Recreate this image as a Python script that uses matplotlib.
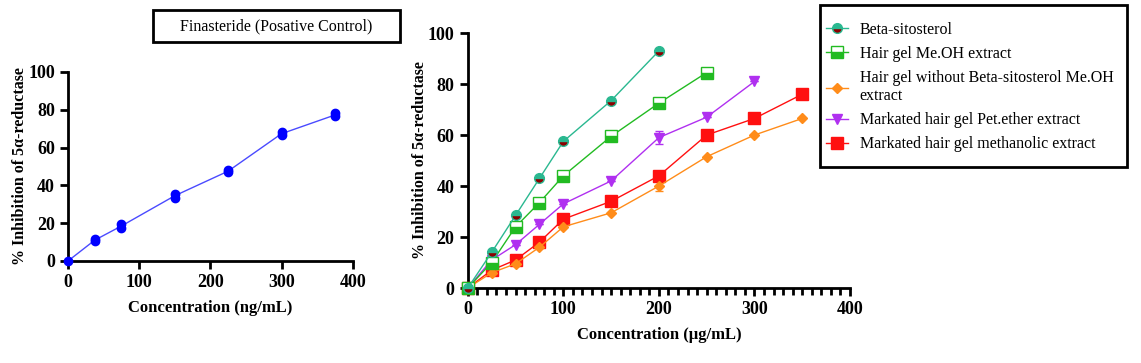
import matplotlib
matplotlib.use("Agg")
import matplotlib.pyplot as plt
from matplotlib.patches import Rectangle

plt.rcParams['font.family'] = ['Liberation Serif', 'DejaVu Serif']

# Finasteride (positive control), replicates
fin_x = [0, 37.5, 37.5, 75, 75, 150, 150, 225, 225, 300, 300, 375, 375]
fin_y = [0, 10.5, 11.5, 17.5, 19.5, 33.5, 35.5, 47, 48, 66.5, 68, 76.5, 78]
fin_mean_x = [0, 37.5, 75, 150, 225, 300, 375]
fin_mean_y = [0, 11, 18.5, 34.5, 47.5, 67.3, 77.2]

# Extracts
beta_x = [0, 25, 50, 75, 100, 150, 200]
beta_y = [0, 14, 28.5, 43, 57.5, 73.5, 93]
meoh_x = [0, 25, 50, 75, 100, 150, 200, 250]
meoh_y = [0, 10, 24, 33.5, 44, 59.5, 72.5, 84.5]
nobeta_x = [0, 25, 50, 75, 100, 150, 200, 250, 300, 350]
nobeta_y = [0, 6, 9.5, 16, 24, 29.5, 40, 51.5, 60, 66.5]
nobeta_err = [0, 0, 0, 0, 0, 0, 2, 0, 0, 0]
pet_x = [0, 25, 50, 75, 100, 150, 200, 250, 300]
pet_y = [0, 11, 17, 25, 33, 42, 59, 67, 81]
pet_err = [0, 0, 0, 0, 0, 0, 2.5, 0, 0]
meth_x = [0, 25, 50, 75, 100, 150, 200, 250, 300, 350]
meth_y = [0, 7, 11, 18, 27, 34, 44, 60, 66.5, 76]

labels = ["Beta-sitosterol", "Hair gel Me.OH extract",
          "Hair gel without Beta-sitosterol Me.OH\nextract",
          "Markated hair gel Pet.ether extract",
          "Markated hair gel methanolic extract"]

fig = plt.figure(figsize=(11.41, 3.63), dpi=100)

def style_axes(ax, xlabel):
    for s in ["top", "right"]:
        ax.spines[s].set_visible(False)
    for s in ["left", "bottom"]:
        ax.spines[s].set_linewidth(2)
    ax.tick_params(width=2, length=6, labelsize=13)
    for lbl in ax.get_xticklabels() + ax.get_yticklabels():
        lbl.set_fontweight("bold")
    ax.set_xlabel(xlabel, fontsize=12, fontweight="bold")
    ax.set_ylabel("% Inhibition of 5\u03b1-reductase", fontsize=11.5, fontweight="bold")

# left panel
ax1 = fig.add_axes([0.0596, 0.281, 0.2495, 0.521])
ax1.plot(fin_mean_x, fin_mean_y, color="#4a4aff", lw=1, clip_on=False)
ax1.plot(fin_x, fin_y, "o", color="#0000ff", ms=6, clip_on=False, zorder=3)
ax1.set_xlim(0, 400)
ax1.set_ylim(0, 100)
ax1.set_xticks([0, 100, 200, 300, 400])
ax1.set_yticks([0, 20, 40, 60, 80, 100])
style_axes(ax1, "Concentration (ng/mL)")
ax1.yaxis.labelpad = 0
ax1.xaxis.labelpad = 6

# title box
fig.patches.append(Rectangle((0.134, 0.884), 0.2165, 0.088, transform=fig.transFigure,
                             fill=False, edgecolor="black", linewidth=2))
fig.text(0.134 + 0.2165 / 2, 0.884 + 0.044, "Finasteride (Posative Control)",
         ha="center", va="center", fontsize=11.5)

# right panel
ax2 = fig.add_axes([0.410, 0.2066, 0.335, 0.7024])
h1, = ax2.plot(beta_x, beta_y, "-o", color="#2ab890", mfc="#2ab890", mfcalt="#8b0000",
               mec="#2ab890", fillstyle="top", ms=7, lw=1, clip_on=False, zorder=5)
h2, = ax2.plot(meoh_x, meoh_y, "-s", color="#22bb22", mfc="#22bb22", mfcalt="white",
               mec="#22bb22", fillstyle="bottom", ms=8, lw=1, clip_on=False, zorder=4)
h3 = ax2.errorbar(nobeta_x, nobeta_y, yerr=nobeta_err, fmt="-D", color="#ff8c1a",
                  ms=5, lw=1, capsize=3, elinewidth=1, clip_on=False, zorder=3)
h4 = ax2.errorbar(pet_x, pet_y, yerr=pet_err, fmt="-v", color="#b030f0",
                  ms=7, lw=1, capsize=3, elinewidth=1, clip_on=False, zorder=3)
h5, = ax2.plot(meth_x, meth_y, "-s", color="#ff1010", ms=8, lw=1, clip_on=False, zorder=3)
ax2.set_xlim(0, 400)
ax2.set_ylim(0, 100)
ax2.set_xticks([0, 100, 200, 300, 400])
ax2.set_xticks(range(0, 401, 10), minor=True)
ax2.tick_params(which="minor", width=2, length=5)
ax2.set_yticks([0, 20, 40, 60, 80, 100])
style_axes(ax2, "Concentration (\u03bcg/mL)")
ax2.yaxis.labelpad = 0
ax2.xaxis.labelpad = 6

# legend box drawn separately so padding can match
fig.patches.append(Rectangle((820 / 1141, 1 - 167 / 363), 307 / 1141, 162 / 363,
                             transform=fig.transFigure, fill=False,
                             edgecolor="black", linewidth=2))
leg = fig.legend([h1, h2, h3[0], h4[0], h5], labels, loc="upper left",
                 bbox_to_anchor=(826 / 1141, 1 - 22 / 363), fontsize=11.5,
                 frameon=False, handlelength=1.4, borderpad=0,
                 labelspacing=0.5, handletextpad=0.7, borderaxespad=0)

fig.savefig("out.png", dpi=100)
